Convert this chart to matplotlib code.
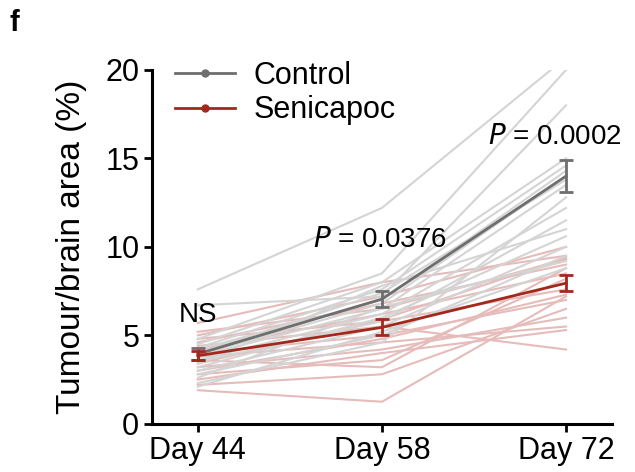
import matplotlib
matplotlib.use("Agg")
import matplotlib.pyplot as plt
import numpy as np
from matplotlib.lines import Line2D

plt.rcParams['font.family'] = ['Liberation Sans', 'DejaVu Sans']

days = ["Day 44", "Day 58", "Day 72"]

# individual mice, control
ctrl_d44 = [7.6, 6.7, 4.8, 4.5, 4.3, 4.2, 4.0, 3.9, 3.8, 3.6, 3.5, 3.4, 3.2, 3.0, 2.8, 2.6, 2.3, 2.1]
ctrl_d58 = [12.2, 7.2, 8.5, 8.0, 7.6, 7.0, 7.4, 6.8, 6.5, 6.2, 5.8, 7.8, 6.0, 5.5, 5.0, 6.6, 4.6, 5.2]
ctrl_d72 = [20.7, 18.0, 20.0, 15.0, 14.6, 14.3, 13.8, 14.0, 13.5, 12.2, 11.5, 11.0, 10.6, 10.0, 9.5, 9.2, 12.8, 8.8]

# individual mice, senicapoc
sen_d44 = [5.7, 5.2, 5.0, 4.8, 4.6, 4.4, 4.2, 4.0, 3.8, 3.6, 3.4, 3.2, 3.0, 2.8, 2.5, 2.2, 1.9]
sen_d58 = [8.0, 6.5, 7.2, 5.8, 6.8, 5.5, 6.2, 5.0, 4.6, 3.2, 5.9, 4.2, 4.8, 3.6, 4.0, 2.8, 1.25]
sen_d72 = [9.5, 9.3, 10.0, 7.6, 9.0, 4.2, 8.5, 7.0, 5.5, 8.8, 9.4, 6.0, 7.3, 8.2, 5.3, 6.5, 7.2]

ctrl_mean = [3.95, 7.05, 14.0]
ctrl_sem = [0.35, 0.45, 0.9]
sen_mean = [3.85, 5.45, 7.95]
sen_sem = [0.25, 0.45, 0.45]

c_ctrl_light = '#d4d4d4'
c_sen_light = '#e6bcba'
c_ctrl = '#6e6e6e'
c_sen = '#a3281c'

fig = plt.figure(figsize=(6.35, 4.72), dpi=100)
ax = fig.add_axes([0.239, 0.102, 0.725, 0.750])

x = np.arange(len(days))
for row in zip(sen_d44, sen_d58, sen_d72):
    ax.plot(x, row, color=c_sen_light, lw=1.5, zorder=1)
for row in zip(ctrl_d44, ctrl_d58, ctrl_d72):
    ax.plot(x, row, color=c_ctrl_light, lw=1.5, zorder=2)

ax.errorbar(x, ctrl_mean, yerr=ctrl_sem, color=c_ctrl, lw=2, capsize=5,
            capthick=2, elinewidth=2, zorder=4)
ax.errorbar(x, sen_mean, yerr=sen_sem, color=c_sen, lw=2, capsize=5,
            capthick=2, elinewidth=2, zorder=5)

ax.set_xlim(-0.25, 2.25)
ax.set_ylim(0, 20)
ax.set_xticks(x)
ax.set_xticklabels(days)
ax.set_yticks([0, 5, 10, 15, 20])
ax.tick_params(labelsize=22, width=2, length=6, pad=3)
for s in ['top', 'right']:
    ax.spines[s].set_visible(False)
for s in ['left', 'bottom']:
    ax.spines[s].set_linewidth(2.2)
ax.set_ylabel("Tumour/brain area (%)", fontsize=24, labelpad=13)

ax.text(0, 6.15, "NS", fontsize=20, ha='center', va='center')
ax.text(0.99, 10.4, "$\\it{P}$ = 0.0376", fontsize=20, ha='center', va='center')
ax.text(1.94, 16.2, "$\\it{P}$ = 0.0002", fontsize=20, ha='center', va='center')

handles = [Line2D([], [], color=c_ctrl, lw=2, marker='o', ms=5),
           Line2D([], [], color=c_sen, lw=2, marker='o', ms=5)]
ax.legend(handles, ["Control", "Senicapoc"], loc='upper left', fontsize=22,
          frameon=False, handlelength=1.95, handletextpad=0.6, labelspacing=0.15,
          bbox_to_anchor=(0.025, 1.06), borderaxespad=0)

fig.text(0.015, 0.952, "f", fontsize=21, fontweight='bold', va='center')

fig.savefig("out.png", dpi=100)
